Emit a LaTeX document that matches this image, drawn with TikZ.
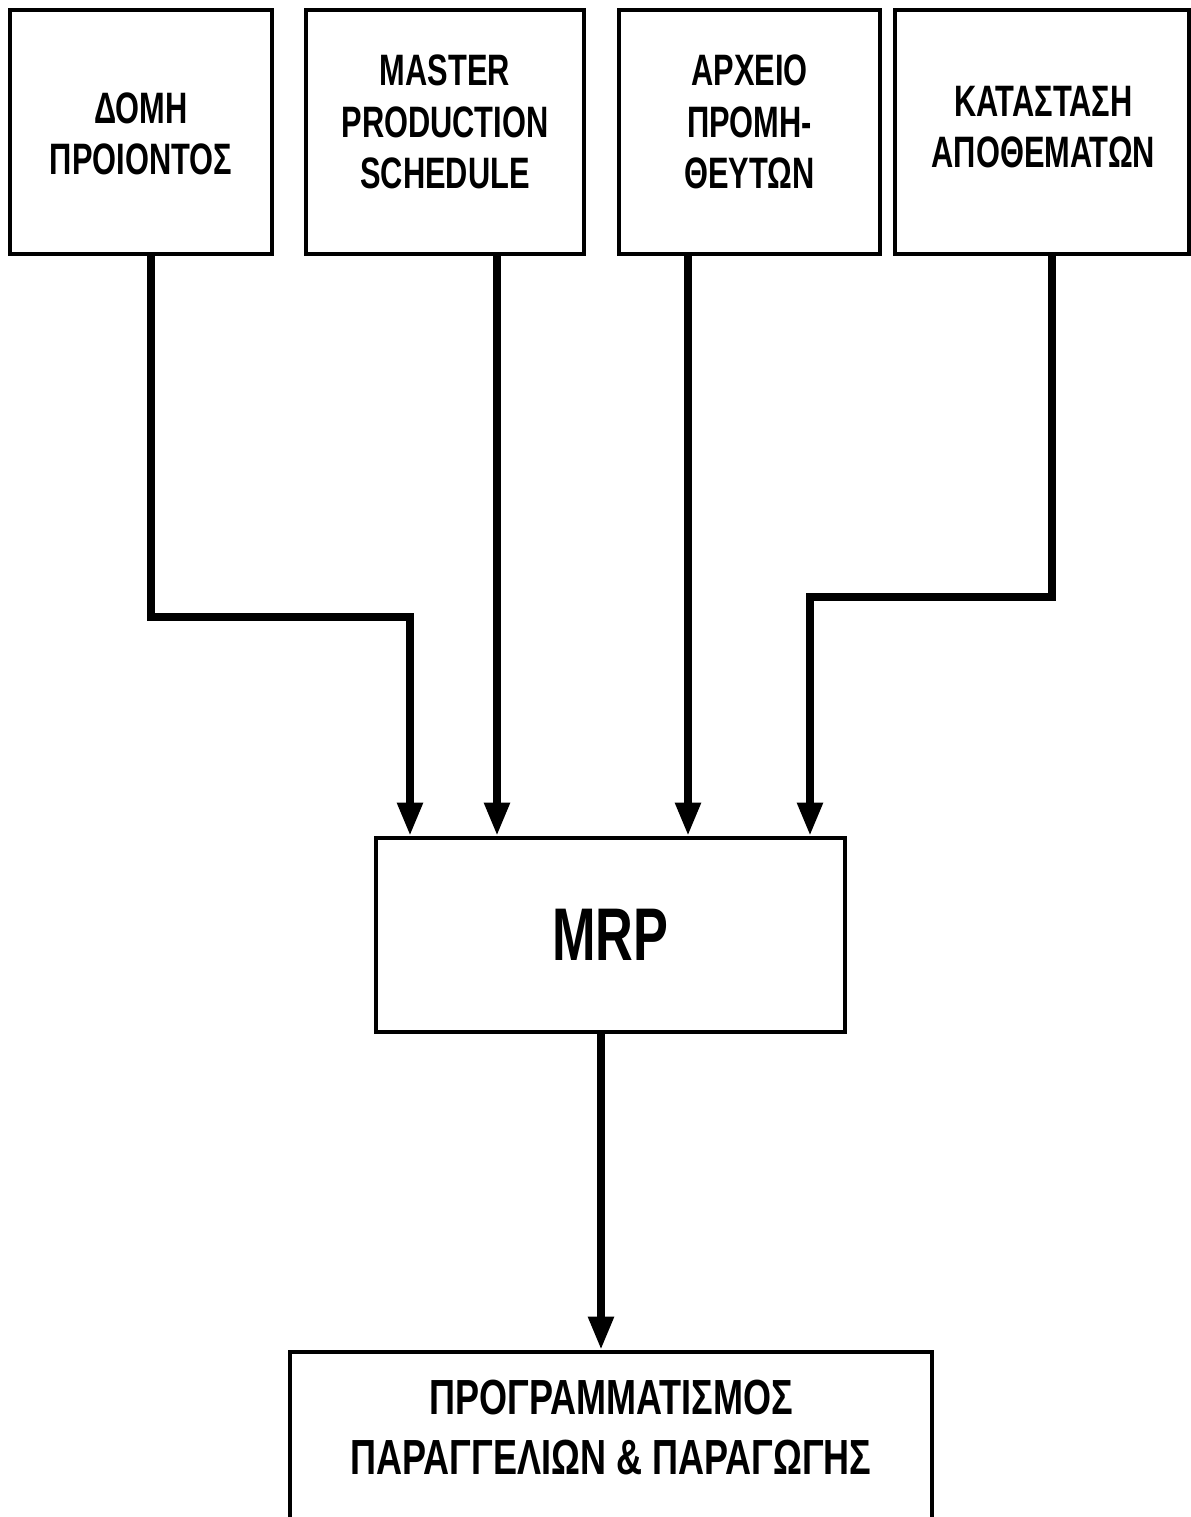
\documentclass[tikz,border=0pt]{standalone}
\usepackage{fontspec}
\usetikzlibrary{arrows.meta}
\newfontfamily\lsb[FakeStretch=0.7]{Liberation Sans}
\newfontfamily\lsbb[FakeStretch=0.73]{Liberation Sans}
\newfontfamily\lsbn[FakeStretch=0.7]{Liberation Sans}
\begin{document}
\begin{tikzpicture}[x=0.75pt,y=-0.75pt,
  box/.style={draw,line width=3pt,inner sep=0pt,align=center},
  topbox/.style={box,minimum height=183pt},
  toptext/.style={inner sep=0pt,align=center,font=\lsb\bfseries\fontsize{33pt}{38.6pt}\selectfont},
  conn/.style={line width=6pt,line join=miter,-{Triangle[width=18pt,length=25pt]}}]
\useasboundingbox[fill=white] (0,0) rectangle (1190,1517);
% top boxes
\node[topbox,minimum width=196.5pt] (b1) at (141,132) {};
\node[topbox,minimum width=208.5pt] (b2) at (445,132) {};
\node[topbox,minimum width=195.75pt] (b3) at (749.5,132) {};
\node[topbox,minimum width=220.5pt] (b4) at (1042,132) {};
\node[toptext] (t1) at ([yshift=-1.5pt]b1.center) {ΔΟΜΗ\\ΠΡΟΙΟΝΤΟΣ};
\node[toptext] (t2) at ([yshift=7.5pt]b2.center) {MASTER\\PRODUCTION\\SCHEDULE};
\node[toptext] (t3) at ([yshift=7.5pt]b3.center) {ΑΡΧΕΙΟ\\ΠΡΟΜΗ-\\ΘΕΥΤΩΝ};
\node[toptext] (t4) at ([xshift=1pt,yshift=3.75pt]b4.center) {ΚΑΤΑΣΤΑΣΗ\\ΑΠΟΘΕΜΑΤΩΝ};
% MRP
\node[box,minimum width=351.75pt,minimum height=145.5pt,font=\lsbn\bfseries\fontsize{56pt}{60pt}\selectfont] (mrp) at (610.5,935) {\raisebox{-2pt}{MRP}};
% bottom box
\node[box,minimum width=481.5pt,minimum height=129.75pt] (out) at (611,1438.5) {};
\node[inner sep=0pt,align=center,font=\lsbb\bfseries\fontsize{37pt}{45pt}\selectfont] (tout) at ([yshift=8.6pt]out.center) {ΠΡΟΓΡΑΜΜΑΤΙΣΜΟΣ\\ΠΑΡΑΓΓΕΛΙΩΝ \& ΠΑΡΑΓΩΓΗΣ};
% connector coordinates
\coordinate (s1) at (151,0);
\coordinate (k1) at (410,617);
\coordinate (s2) at (497,0);
\coordinate (s3) at (688,0);
\coordinate (s4) at (1052,0);
\coordinate (k4) at (810,597);
\coordinate (s5) at (601,0);
% connectors
\draw[conn] (s1 |- b1.south) |- (k1) -- (k1 |- mrp.north);
\draw[conn] (s2 |- b2.south) -- (s2 |- mrp.north);
\draw[conn] (s3 |- b3.south) -- (s3 |- mrp.north);
\draw[conn] (s4 |- b4.south) |- (k4) -- (k4 |- mrp.north);
\draw[conn] (s5 |- mrp.south) -- (s5 |- out.north);
\end{tikzpicture}
\end{document}
